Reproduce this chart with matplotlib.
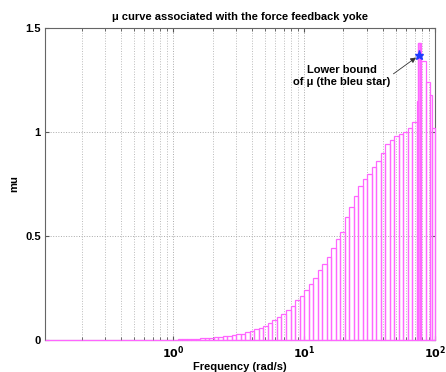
import numpy as np
import matplotlib
matplotlib.use("Agg")
import matplotlib.pyplot as plt
from matplotlib.ticker import LogLocator, FixedLocator, NullFormatter

# Frequency grid (rad/s): left edges of each mu segment, plus the final right edge
freq_edges = [
    0.105, 0.2, 0.4, 0.7,
    1.00, 1.083, 1.172, 1.269, 1.374, 1.487, 1.610, 1.743, 1.887, 2.043,
    2.212, 2.395, 2.593, 2.807, 3.039, 3.290, 3.562, 3.857, 4.175, 4.520,
    4.894, 5.298, 5.736, 6.210, 6.723, 7.279, 7.880, 8.532, 9.237,
    10.00, 10.83, 11.72, 12.69, 13.74, 14.87, 16.10, 17.43, 18.87, 20.43,
    22.12, 23.95, 25.93, 28.07, 30.39, 32.90, 35.62, 38.57, 41.75, 45.20,
    48.94, 52.98, 57.36, 62.10, 67.23, 72.79, 74.4, 78.80, 85.32, 92.37,
    95.5, 100.0,
]

# Structured singular value (mu) on each frequency segment
mu_values = [
    0.0, 0.0, 0.0, 0.001,
    0.002, 0.003, 0.004, 0.005, 0.006, 0.007, 0.008, 0.010, 0.011, 0.013,
    0.015, 0.017, 0.020, 0.023, 0.027, 0.031, 0.037, 0.044, 0.051, 0.058,
    0.068, 0.082, 0.095, 0.110, 0.126, 0.145, 0.165, 0.190, 0.213,
    0.240, 0.270, 0.300, 0.335, 0.365, 0.400, 0.440, 0.485, 0.520, 0.590,
    0.640, 0.690, 0.740, 0.775, 0.800, 0.830, 0.860, 0.900, 0.940, 0.960,
    0.980, 0.990, 1.000, 1.020, 1.050, 1.150, 1.430, 1.340, 1.240, 1.180,
    1.020,
]

# Lower bound of mu (marked with a star)
star_freq = 76.0
star_mu = 1.37

title_text = "\u03bc curve associated with the force feedback yoke"
x_label = "Frequency (rad/s)"
y_label = "mu"
note_text = "Lower bound\nof \u03bc (the bleu star)"

plt.rcParams["font.family"] = ["Liberation Sans", "DejaVu Sans"]

fig = plt.figure(figsize=(4.46, 3.72), dpi=100)
ax = fig.add_axes([0.1009, 0.086, 0.8744, 0.8387])

edges = np.array(freq_edges)
heights = np.array(mu_values)
widths = np.diff(edges)

ax.bar(edges[:-1], heights, width=widths, align="edge",
       facecolor="none", edgecolor="#ff66ff", linewidth=0.9, zorder=3,
       clip_on=False)
peak = int(np.argmax(heights))
ax.bar(edges[peak], heights[peak], width=widths[peak] * 0.6, align="edge",
       facecolor="#ff88ff", edgecolor="#ff66ff", linewidth=0.9, zorder=3)

ax.plot([star_freq], [star_mu], marker="*", color="#1f3cff",
        markersize=6.5, linestyle="none", zorder=5)

ax.annotate(note_text, xy=(star_freq, star_mu), xytext=(19.5, 1.27),
            ha="center", va="center", fontsize=8, fontweight="bold",
            linespacing=1.25,
            arrowprops=dict(arrowstyle="-|>", color="#333333", lw=0.6,
                            mutation_scale=8, shrinkA=0, shrinkB=3,
                            relpos=(1.0, 0.5)),
            zorder=6)

ax.set_xscale("log")
ax.set_xlim(0.105, 100)
ax.set_ylim(0, 1.5)

ax.xaxis.set_major_locator(FixedLocator([1, 10, 100]))
ax.xaxis.set_minor_locator(LogLocator(base=10, subs=np.arange(2, 10), numticks=20))
ax.xaxis.set_minor_formatter(NullFormatter())
ax.set_xticks([1, 10, 100])
ax.set_xticklabels([r"$\mathbf{10^{0}}$", r"$\mathbf{10^{1}}$", r"$\mathbf{10^{2}}$"])
ax.set_yticks([0, 0.5, 1, 1.5])
ax.set_yticklabels(["0", "0.5", "1", "1.5"])

ax.grid(True, which="major", linestyle=":", color="#aaaaaa", linewidth=0.7)
ax.grid(True, which="minor", axis="x", linestyle=":", color="#bbbbbb", linewidth=0.7)
ax.set_axisbelow(True)

ax.tick_params(which="both", direction="in", top=True, right=True,
               labelsize=8, colors="#555555", labelcolor="black", pad=3)
ax.tick_params(which="major", length=3)
ax.tick_params(which="minor", length=2)
for lbl in ax.get_xticklabels() + ax.get_yticklabels():
    lbl.set_fontweight("bold")
for s in ax.spines.values():
    s.set_color("#666666")
    s.set_linewidth(0.8)

ax.set_title(title_text, fontsize=8, fontweight="bold", pad=6)
ax.set_xlabel(x_label, fontsize=8, fontweight="bold", labelpad=1)
ax.set_ylabel(y_label, fontsize=8, fontweight="bold", labelpad=4)

fig.savefig("out.png", dpi=100)
